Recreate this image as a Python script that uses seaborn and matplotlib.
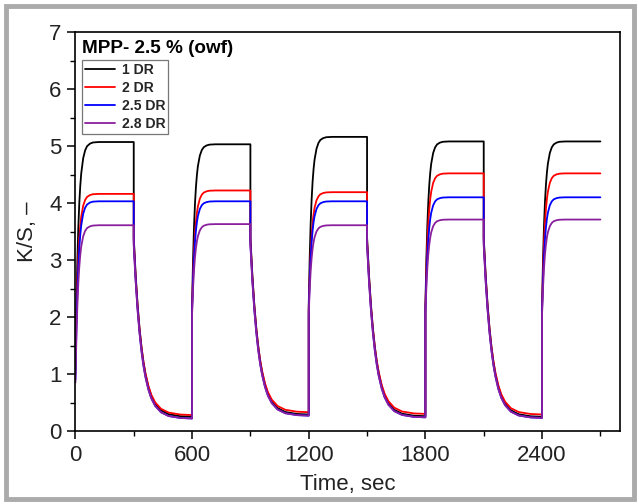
import numpy as np
import pandas as pd
import matplotlib
matplotlib.use("Agg")
import matplotlib.pyplot as plt
from matplotlib.ticker import MultipleLocator
from matplotlib.patches import Rectangle
import seaborn as sns

# ---- data ----
series_names = ["1 DR", "2 DR", "2.5 DR", "2.8 DR"]
series_colors = ["#000000", "#ff0000", "#0000ff", "#8a1f9e"]

cycle_starts = [0, 600, 1200, 1800, 2400]          # light on (s)
on_duration = 300                                   # light off after 300 s

# common response shape (time offset -> fraction of step)
rise_dt = [0, 5, 10, 15, 20, 25, 30, 40, 50, 60, 75, 90, 120, 300]
rise_frac = [0, .283, .487, .632, .736, .811, .865, .930, .964, .982, .993, .998, 1, 1]
decay_dt = [0, 5, 10, 15, 20, 30, 40, 50, 60, 75, 90, 110, 140, 180, 240, 300]
decay_frac = [1, .888, .788, .700, .621, .490, .386, .304, .240, .168, .117, .073, .036, .014, .003, 0]

# levels per series
first_start = {"1 DR": 1.00, "2 DR": 1.20, "2.5 DR": 0.90, "2.8 DR": 0.85}
jump_level = {"1 DR": 2.20, "2 DR": 2.15, "2.5 DR": 2.10, "2.8 DR": 2.05}
drop_level = {"1 DR": 3.40, "2 DR": 3.35, "2.5 DR": 3.30, "2.8 DR": 3.25}
plateau = {
    "1 DR":   [5.07, 5.03, 5.16, 5.08, 5.08],
    "2 DR":   [4.16, 4.22, 4.19, 4.52, 4.52],
    "2.5 DR": [4.03, 4.03, 4.03, 4.10, 4.10],
    "2.8 DR": [3.61, 3.63, 3.61, 3.71, 3.71],
}
minimum = {
    "1 DR":   [0.25, 0.29, 0.26, 0.25],
    "2 DR":   [0.28, 0.33, 0.30, 0.29],
    "2.5 DR": [0.22, 0.27, 0.24, 0.23],
    "2.8 DR": [0.22, 0.27, 0.24, 0.23],
}

title_text = "MPP- 2.5 % (owf)"
x_ticks = [0, 600, 1200, 1800, 2400]
y_ticks = [0, 1, 2, 3, 4, 5, 6, 7]

# ---- build long-form table ----
rows = []
order = 0
rd = np.array(rise_dt, float); rf = np.array(rise_frac, float)
dd = np.array(decay_dt, float); df_ = np.array(decay_frac, float)
for name in series_names:
    for k, t0 in enumerate(cycle_starts):
        P = plateau[name][k]
        lo = first_start[name] if k == 0 else jump_level[name]
        for t, v in zip(t0 + rd, lo + (P - lo) * rf):
            rows.append((name, t, v, order)); order += 1
        if k < len(minimum[name]):
            M = minimum[name][k]
            D = drop_level[name]
            for t, v in zip(t0 + on_duration + dd, M + (D - M) * df_):
                rows.append((name, t, v, order)); order += 1
data = pd.DataFrame(rows, columns=["series", "t", "v", "order"])

# ---- plot ----
sns.set_style("ticks")
plt.rcParams["font.family"] = ["Liberation Sans", "DejaVu Sans"]

fig = plt.figure(figsize=(6.39, 5.04), dpi=100)
ax = fig.add_axes([0.118, 0.1448, 0.852, 0.7917])

sns.lineplot(data=data, x="t", y="v", hue="series", hue_order=series_names,
             palette=series_colors, sort=False, estimator=None,
             linewidth=1.3, ax=ax, legend=True)

ax.set_xlim(0, 2800)
ax.set_ylim(0, 7)
ax.set_xticks(x_ticks)
ax.set_yticks(y_ticks)
ax.xaxis.set_minor_locator(MultipleLocator(300))
ax.yaxis.set_minor_locator(MultipleLocator(0.5))
ax.tick_params(which="major", direction="out", length=6, width=1.1,
               labelsize=16, colors="black", labelcolor="#222222", pad=4)
ax.tick_params(which="minor", direction="out", length=3.5, width=1.0, colors="black")
for s in ax.spines.values():
    s.set_visible(True)
    s.set_linewidth(1.2)
    s.set_color("black")

ax.set_xlabel("Time, sec", fontsize=16, color="#222222", labelpad=6)
ax.set_ylabel("K/S, \u2013", fontsize=16, color="#222222", labelpad=8)

ax.text(0.013, 0.958, title_text, transform=ax.transAxes, fontsize=13.6,
        fontweight="bold", ha="left", va="center", color="black")

leg = ax.legend(loc="upper left", bbox_to_anchor=(0.013, 0.930), frameon=True,
                fancybox=False, edgecolor="#777777", framealpha=1,
                prop={"weight": "bold", "size": 10.1}, handlelength=2.15,
                handletextpad=0.45, labelspacing=0.3, borderpad=0.2,
                borderaxespad=0)
leg.get_frame().set_linewidth(0.9)
for line in leg.get_lines():
    line.set_linewidth(1.3)

# gray frame around the figure
fig.patches.append(Rectangle((5.5 / 639, 5.5 / 504), 1 - 11 / 639, 1 - 11 / 504,
                             transform=fig.transFigure, fill=False,
                             edgecolor="#ababab", linewidth=3.5))

fig.savefig("out.png", dpi=100, facecolor="white")
